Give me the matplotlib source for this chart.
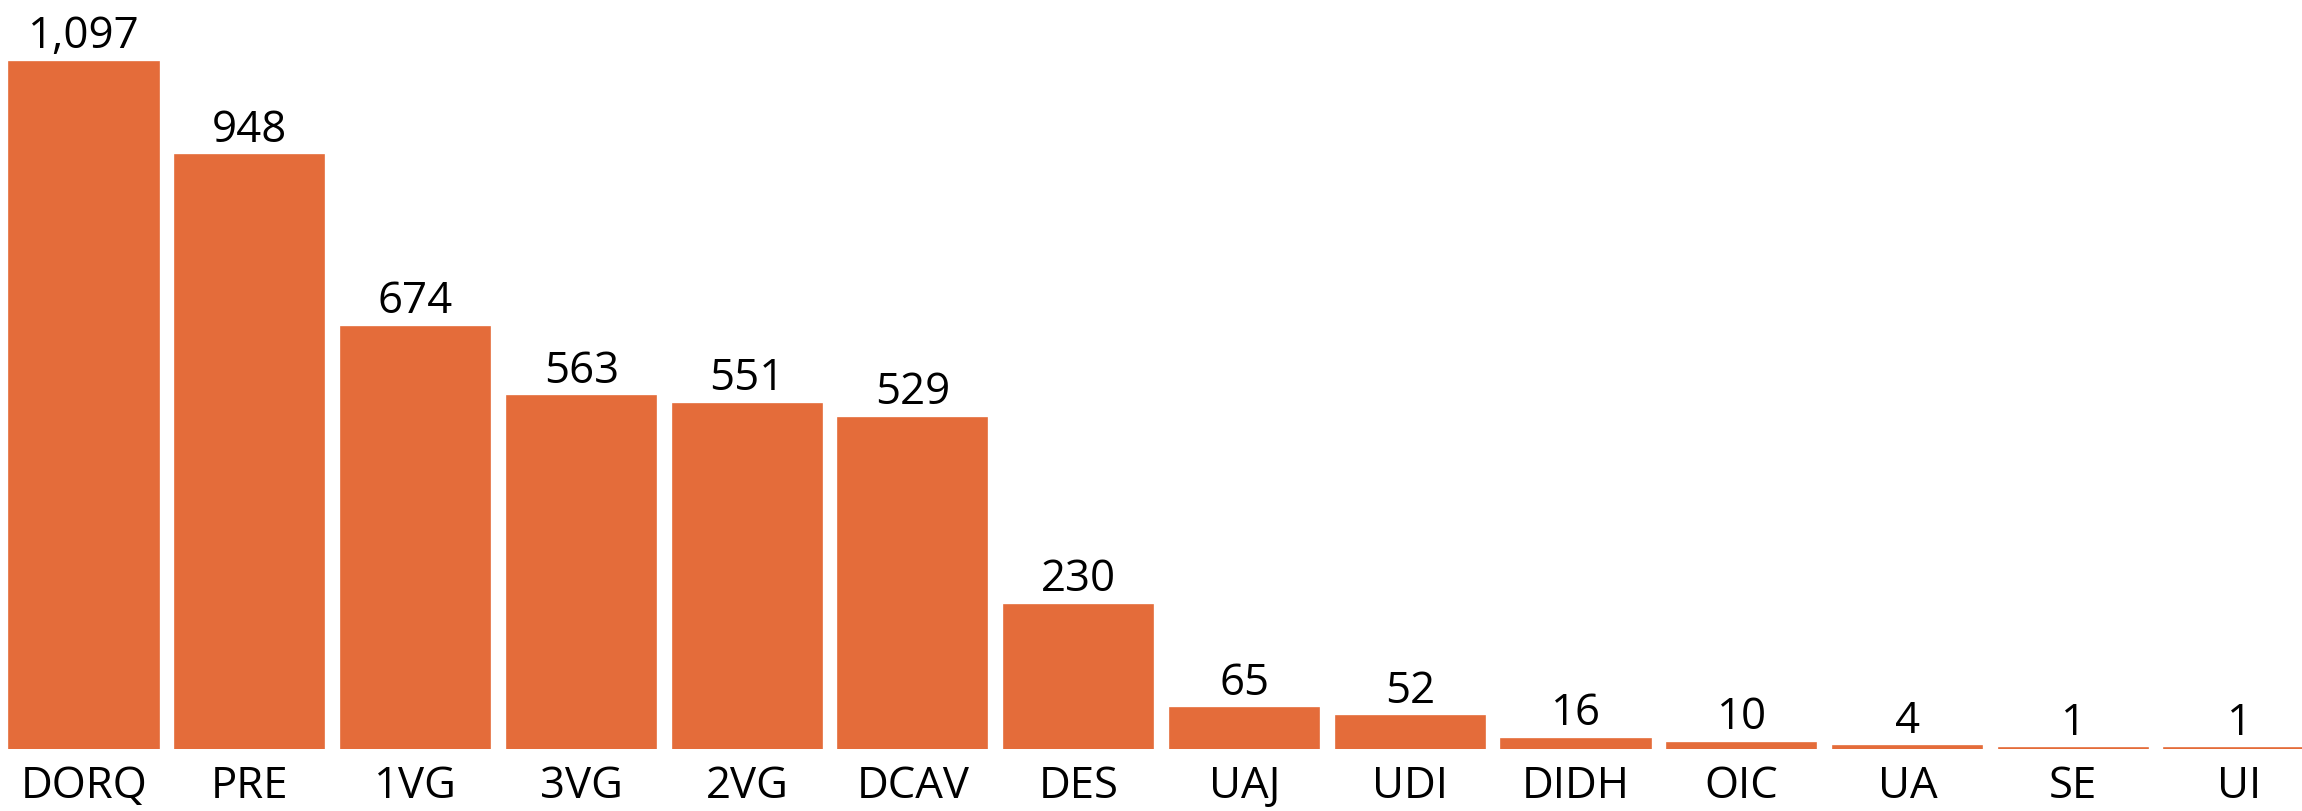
import matplotlib
matplotlib.use("Agg")
import matplotlib.pyplot as plt
from matplotlib import rcParams

rcParams["font.family"] = ["Open Sans", "DejaVu Sans"]

BAR = "#E46C3A"

categories = ["DORQ", "PRE", "1VG", "3VG", "2VG", "DCAV", "DES",
              "UAJ", "UDI", "DIDH", "OIC", "UA", "SE", "UI"]
counts = [1097, 948, 674, 563, 551, 529, 230, 65, 52, 16, 10, 4, 1, 1]

fig = plt.figure(figsize=(23.02, 8.11), dpi=100, facecolor="white")
ax = fig.add_axes([0, 62 / 811, 1, 749 / 811])

x = range(len(categories))
ax.bar(x, counts, width=0.9, color=BAR, edgecolor=BAR, linewidth=1.2)

for xi, v in zip(x, counts):
    ax.annotate(f"{v:,}", (xi, v), xytext=(0, 2), textcoords="offset points",
                ha="center", va="bottom", fontsize=31.5, color="black")

ax.set_xlim(-0.507, 13.38)
ax.set_ylim(0, 1196)
ax.set_xticks(list(x))
ax.set_xticklabels(categories, fontsize=31.5)
ax.tick_params(axis="x", length=0, pad=11)
ax.set_yticks([])
for s in ax.spines.values():
    s.set_visible(False)

fig.savefig("out.png", dpi=100, facecolor="white")
